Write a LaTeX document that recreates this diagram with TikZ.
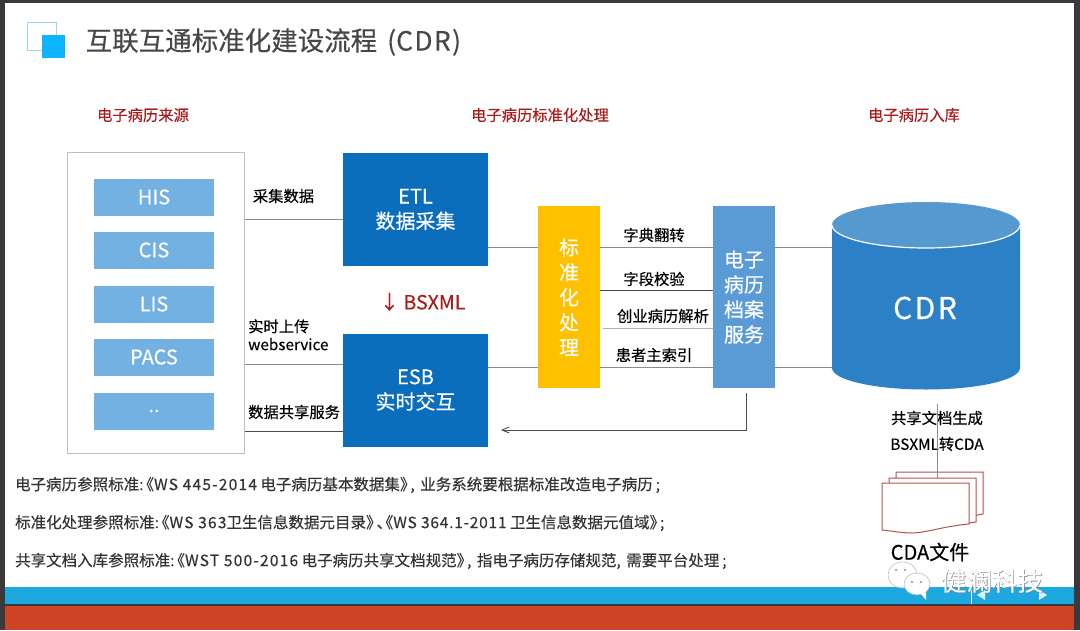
\documentclass[tikz,border=0pt]{standalone}
\usepackage{fontspec}
\setmainfont{Noto Sans CJK SC}[FakeBold=0.25]
\usetikzlibrary{arrows.meta}
\definecolor{frame}{HTML}{3A3A3C}
\definecolor{lightblue}{HTML}{73B1E2}
\definecolor{deepblue}{HTML}{0A6EBD}
\definecolor{amber}{HTML}{FFC000}
\definecolor{midblue}{HTML}{5B9BD5}
\definecolor{hd}{HTML}{A81C1C}
\definecolor{pagered}{HTML}{B5504F}
\definecolor{barblue}{HTML}{1EA8E0}
\definecolor{barred}{HTML}{CE4525}
\definecolor{cyl}{HTML}{2B80C6}
\definecolor{cyltop}{HTML}{5599CF}
\newcommand{\wide}[1]{{\addfontfeature{LetterSpace=8}#1}}
\newcommand{\lbk}{\kern-.32em《}
\newcommand{\rbk}{》\kern-.32em}
\newcommand{\cma}{,\kern2pt\ }
\tikzset{
 x=1pt,y=-1pt,
 srcitem/.style={fill=lightblue,minimum width=120,minimum height=37,inner sep=0,text=white,font=\fontsize{20}{24}\selectfont},
 bigbox/.style={fill=deepblue,minimum width=145,minimum height=113,inner sep=0,text=white,align=center,font=\fontsize{20}{25}\selectfont},
 tallbox/.style={minimum width=62,minimum height=182,inner sep=0,text=white,align=center,font=\fontsize{20}{25}\selectfont},
 heading/.style={text=hd,font=\fontsize{15.3}{17}\selectfont,inner sep=0},
 lab/.style={text=black,font=\fontsize{15.3}{18}\selectfont,inner sep=0,align=left},
 refline/.style={anchor=west,text=black!80,font=\fontsize{15.5}{17}\selectfont,inner sep=0},
 conn/.style={draw=black!45,line width=0.9pt},
 conndark/.style={draw=black!70,line width=0.9pt},
 page/.style={draw=pagered,line width=1pt,fill=white},
}
\begin{document}
\begin{tikzpicture}
\useasboundingbox (0,0) rectangle (1080,630);
\fill[white] (0,0) rectangle (1080,630);
% screen frame
\fill[frame] (0,0) rectangle (1080,3);
\fill[frame] (0,0) rectangle (5,630);
\fill[frame] (1074,0) rectangle (1080,630);
% bars
\fill[barblue] (5,587) rectangle (1074,604);
\fill[frame] (5,604) rectangle (1074,606);
\fill[barred] (5,606) rectangle (1074,630);
\draw[white,line width=0.5pt] (971,587) -- (971,604);
\fill[white,opacity=.85] (985,590) -- (985,600) -- (977,595) -- cycle;
\fill[white,opacity=.85] (1039,590) -- (1039,600) -- (1047,595) -- cycle;
% title icon
\draw[draw=cyan!40!white!85!gray,line width=1pt] (27.5,22.5) rectangle (56.5,50.5);
\fill[fill={rgb,255:red,13;green,180;blue,255}] (42,35) rectangle (65,58);
\node[anchor=west,inner sep=0,text=black!72,font=\fontsize{26.5}{30}\selectfont] (title) at (85.5,42) {互联互通标准化建设流程\hspace{10pt}(\addfontfeature{LetterSpace=5}CDR)};
% headings
\node[heading] (h1) at (143,115) {电子病历来源};
\node[heading] (h2) at (540,115) {电子病历标准化处理};
\node[heading] (h3) at (914,115) {电子病历入库};
% source box
\node[draw=black!25,line width=1pt,fill=white,minimum width=177,minimum height=301,inner sep=0] (src) at (155.5,302.5) {};
\node[srcitem] (his) at (154,197) {HIS};
\node[srcitem] (cis) at (154,250) {CIS};
\node[srcitem] (lis) at (154,304) {LIS};
\node[srcitem] (pacs) at (154,357) {PACS};
\node[srcitem] (dots) at (154,411) {..};
% main boxes
\node[bigbox] (etl) at (415.5,209.5) {ETL\\数据采集};
\node[bigbox] (esb) at (415.5,390) {ESB\\实时交互};
\node[tallbox,fill=amber] (std) at (569,297) {标\\准\\化\\处\\理};
\node[tallbox,fill=midblue] (arc) at (744,297) {电子\\病历\\档案\\服务};
\node[inner sep=0,text=hd,font=\fontsize{19.5}{24}\selectfont] (bs) at (422.5,302) {↓ BSXML};
% cylinder
\fill[cyl] (832,225) -- (832,368) arc[start angle=180,end angle=360,x radius=94,y radius=-21.5] -- (1020,225) -- cycle;
\fill[cyltop] (926,225) ellipse[x radius=94,y radius=23];
\draw[white,line width=1.2pt] (832,225) arc[start angle=180,end angle=360,x radius=94,y radius=-23];
\node[inner sep=0,text=white,font=\fontsize{30}{34}\selectfont] (cdr) at (925,308) {\addfontfeature{LetterSpace=8,FakeBold=0.6}CDR};
\coordinate (cdrl) at (832,300);
\coordinate (cdrb) at (937,404);
% connectors
\draw[conn] (src.east |- 0,219) -- (etl.west |- 0,219);
\draw[conn] (src.east |- 0,364) -- (esb.west |- 0,364);
\draw[conndark] (esb.west |- 0,431) -- (src.east |- 0,431);
\draw[conn] (etl.east |- 0,247) -- (std.west |- 0,247);
\draw[conn] (esb.east |- 0,367) -- (std.west |- 0,367);
\draw[conn] (std.east |- 0,247) -- (arc.west |- 0,247);
\draw[conndark] (std.east |- 0,290) -- (arc.west |- 0,290);
\draw[conn,black!30] (603,328) -- (arc.west |- 0,328);
\draw[conn] (std.east |- 0,367) -- (arc.west |- 0,367);
\draw[conn] (arc.east |- 0,247) -- (cdrl |- 0,247);
\draw[conn] (arc.east |- 0,367) -- (cdrl |- 0,367);
\coordinate (backa) at (746,393);
\coordinate (backb) at (501,430);
\draw[conndark,-{Straight Barb[length=7pt,width=6pt]}] (backa) |- (backb);
% labels
\node[lab] (l1) at (283.5,196) {采集数据};
\node[lab,anchor=north west] (l2) at (248,319) {实时上传\\webservice};
\node[lab,anchor=west] (l3) at (248,412) {数据共享服务};
\node[lab] (m1) at (654,235) {字典翻转};
\node[lab] (m2) at (654,279) {字段校验};
\node[lab] (m3) at (663,316) {创业病历解析};
\node[lab] (m4) at (654,355) {患者主索引};
\node[lab] (s1) at (937,418) {共享文档生成};
\node[lab] (s2) at (937,444) {BSXML转CDA};
% document stack
\draw[page] (896,472) -- (983,472) -- (983,514) -- (940,522) -- (896,522) -- cycle;
\draw[page] (889,478) -- (976,478) -- (976,522) -- (933,528) -- (889,528) -- cycle;
\draw[conn] (cdrb) -- (cdrb |- 0,478);
\draw[page] (882,483) -- (969,483)  -- (969,524) .. controls (945,526) and (925,533) .. (912,533) .. controls (902,533) and (892,531) .. (882,530) -- cycle;
\node[inner sep=0,text=black,font=\fontsize{20}{22}\selectfont] (cda) at (930,552) {CDA文件};
% references
\node[refline] (r1) at (15,485) {电子病历参照标准:\lbk\wide{WS 445-2014} 电子病历基本数据集\rbk\cma 业务系统要根据标准改造电子病历\kern3pt;};
\node[refline] (r2) at (15,523) {标准化处理参照标准:\lbk\wide{WS 363}卫生信息数据元目录\rbk 、\kern-.6em\lbk{\addfontfeature{LetterSpace=5}WS 364.1-2011} 卫生信息数据元值域\rbk;};
\node[refline] (r3) at (15,561) {共享文档入库参照标准:\lbk\wide{WST 500-2016} 电子病历共享文档规范\rbk\cma 指电子病历存储规范\cma 需要平台处理\kern3pt;};
% watermark
\filldraw[draw=black!30,fill=white,fill opacity=.9,line width=.5pt] (902.5,575) ellipse[x radius=14.5,y radius=13];
\filldraw[draw=black!30,fill=white,line width=.5pt] (917,584) ellipse[x radius=13,y radius=11];
\fill[white] (921,594) -- (926,600) -- (926,592) -- cycle;
\fill[black!45] (896,570) circle[radius=1.2] (905,570) circle[radius=1.2] (912,582) circle[radius=1.2] (921,582) circle[radius=1.2];
\node[inner sep=0,text=black!50,font=\fontsize{25.5}{28}\selectfont] (wmshadow) at (992.6,581.6) {健澜科技};
\node[inner sep=0,text=white,font=\fontsize{25.5}{28}\selectfont] (wm) at (992,581) {健澜科技};
\end{tikzpicture}
\end{document}
